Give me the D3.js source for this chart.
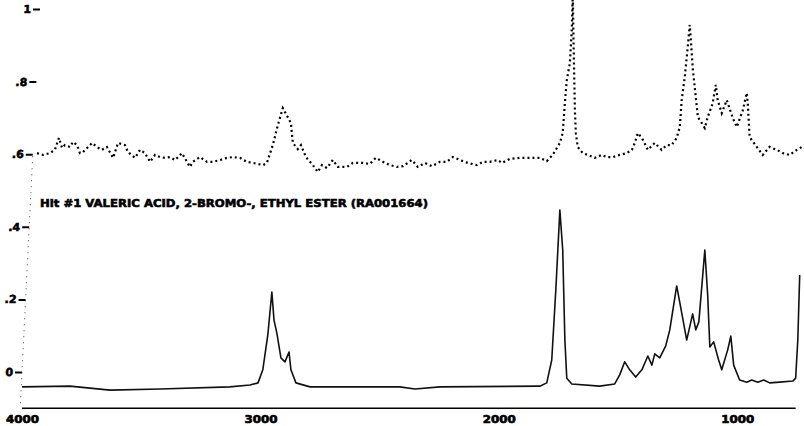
<!DOCTYPE html>
<html>
<head>
<meta charset="utf-8">
<script src="https://cdn.jsdelivr.net/npm/d3@7"></script>
<style>
  body { margin: 0; background: #fff; }
  svg { display: block; }
  .lbl { font-family: "DejaVu Sans", sans-serif; font-weight: bold; fill: #000; stroke: #000; stroke-width: 0.6; }
</style>
</head>
<body>
<div id="chart"></div>
<script>
// unknown sample (upper, noisy trace)
var unkWave = [3937, 3912, 3883, 3862, 3845, 3832, 3820, 3799, 3786, 3769, 3757, 3744, 3706, 3686, 3665, 3644, 3618, 3597, 3568, 3556,
    3526, 3505, 3484, 3463, 3442, 3421, 3400, 3379, 3358, 3329, 3296, 3283, 3254, 3224, 3199, 3170, 3140, 3115, 3086, 3057,
    3031, 2989, 2973, 2948, 2927, 2906, 2893, 2872, 2864, 2843, 2830, 2809, 2792, 2780, 2759, 2742, 2721, 2696, 2675, 2637,
    2612, 2570, 2541, 2516, 2486, 2457, 2428, 2402, 2365, 2340, 2310, 2281, 2247, 2218, 2193, 2163, 2130, 2092, 2067, 2038,
    2004, 1987, 1954, 1912, 1870, 1828, 1799, 1774, 1744, 1732, 1723, 1715, 1702, 1694, 1690, 1686, 1681, 1677, 1669, 1648,
    1627, 1597, 1568, 1547, 1522, 1493, 1463, 1442, 1430, 1417, 1400, 1375, 1346, 1317, 1296, 1275, 1254, 1241, 1233, 1220,
    1207, 1199, 1186, 1165, 1149, 1136, 1124, 1103, 1090, 1082, 1065, 1044, 1019, 1002, 977, 960, 956, 948, 918, 893,
    864, 834, 809, 780, 750, 729]
var unkAbs = [0.603, 0.598, 0.603, 0.612, 0.645, 0.617, 0.625, 0.620, 0.634, 0.625, 0.603, 0.606, 0.631, 0.620, 0.612, 0.620, 0.590, 0.631, 0.625, 0.606,
    0.590, 0.612, 0.603, 0.579, 0.598, 0.592, 0.590, 0.592, 0.584, 0.603, 0.565, 0.579, 0.592, 0.579, 0.579, 0.584, 0.590, 0.592, 0.590, 0.579,
    0.576, 0.570, 0.576, 0.625, 0.680, 0.727, 0.711, 0.686, 0.631, 0.614, 0.625, 0.592, 0.579, 0.570, 0.551, 0.570, 0.562, 0.584, 0.565, 0.565,
    0.576, 0.576, 0.573, 0.590, 0.579, 0.570, 0.565, 0.567, 0.584, 0.565, 0.576, 0.567, 0.579, 0.579, 0.592, 0.584, 0.576, 0.570, 0.579, 0.579,
    0.584, 0.576, 0.587, 0.590, 0.590, 0.590, 0.581, 0.598, 0.631, 0.658, 0.741, 0.804, 0.851, 0.942, 1.04, 0.887, 0.722, 0.658, 0.620, 0.603,
    0.598, 0.590, 0.598, 0.592, 0.592, 0.598, 0.603, 0.612, 0.631, 0.658, 0.645, 0.612, 0.631, 0.612, 0.625, 0.625, 0.645, 0.675, 0.749, 0.813,
    0.900, 0.956, 0.832, 0.702, 0.686, 0.672, 0.702, 0.740, 0.791, 0.749, 0.713, 0.749, 0.700, 0.675, 0.720, 0.769, 0.741, 0.647, 0.620, 0.598,
    0.620, 0.612, 0.603, 0.598, 0.612, 0.620]

// library hit (lower trace)
var hitWave = [4000, 3799, 3631, 3421, 3128, 3044, 3010, 2990, 2969, 2952, 2943, 2931, 2914, 2897, 2880, 2872, 2851, 2792, 2415, 2352,
    2247, 1828, 1799, 1778, 1761, 1744, 1732, 1723, 1715, 1694, 1577, 1514, 1493, 1472, 1451, 1426, 1400, 1375, 1358, 1346,
    1325, 1300, 1283, 1254, 1229, 1212, 1187, 1174, 1161, 1136, 1124, 1115, 1099, 1078, 1065, 1040, 1027, 1015, 990, 960,
    939, 914, 889, 864, 822, 767, 755, 746, 738]
var hitAbs = [-0.041, -0.039, -0.050, -0.047, -0.041, -0.036, -0.030, 0.006, 0.102, 0.220, 0.143, 0.107, 0.039, 0.028, 0.055, 0.006, -0.030, -0.041, -0.041, -0.047,
    -0.041, -0.039, -0.030, 0.033, 0.226, 0.446, 0.336, 0.088, -0.017, -0.033, -0.039, -0.033, -0.008, 0.028, 0.006, -0.014, 0.006, 0.044, 0.019, 0.050,
    0.039, 0.072, 0.116, 0.237, 0.149, 0.088, 0.160, 0.116, 0.138, 0.336, 0.212, 0.069, 0.083, 0.033, 0.006, 0.061, 0.099, 0.019, -0.022, -0.028,
    -0.022, -0.028, -0.022, -0.030, -0.028, -0.025, -0.017, 0.088, 0.267]

var yTicks = [0, 0.2, 0.4, 0.6, 0.8, 1]
var yTickLabels = ["0", ".2", ".4", ".6", ".8", "1"]
var xTicks = [4000, 3000, 2000, 1000]
var hitTitle = "Hit #1 VALERIC ACID, 2-BROMO-, ETHYL ESTER (RA001664)"

var width = 804, height = 426;

var svg = d3.select("#chart")
    .append("svg")
    .attr("width", width)
    .attr("height", height);

svg.append("rect").attr("width", width).attr("height", height).attr("fill", "#fff");

// wavenumber runs right to left
var x = d3.scaleLinear([4000, 720], [22, 804]);
var y = d3.scaleLinear([0, 1], [372, 9]);

// the scanned axis leans a bit, so skew the left axis group
var lean = 0.0496;
var yAxis = g => g
    .attr("transform", "translate(" + (22 + lean * y(0)) + ",0) skewX(" + (-Math.atan(lean) * 180 / Math.PI) + ")")
    .call(d3.axisLeft(y).tickValues(yTicks).tickFormat((d, i) => yTickLabels[i]).tickSize(7).tickPadding(2))
    .call(g => g.select(".domain").remove())
    .call(g => g.selectAll(".tick line").attr("stroke", "#000").attr("stroke-width", 2))
    .call(g => g.selectAll(".tick text").attr("class", "lbl").attr("font-size", 11))
    .call(g => g.append("line")
        .attr("x1", 0).attr("x2", 0)
        .attr("y1", y(0.6) + 2).attr("y2", y(-0.1))
        .attr("stroke", "#444").attr("stroke-width", 1)
        .attr("stroke-dasharray", "1,5"));

var xAxis = g => g
    .attr("transform", "translate(0," + y(-0.1) + ")")
    .call(d3.axisBottom(x).tickValues(xTicks).tickFormat(d3.format("d")).tickSize(0).tickPadding(8))
    .call(g => g.select(".domain").remove())
    .call(g => g.selectAll(".tick text").attr("class", "lbl").attr("font-size", 10)
        .attr("textLength", 33).attr("lengthAdjust", "spacingAndGlyphs"))
    .call(g => g.append("line")
        .attr("x1", x(4000)).attr("x2", x(755))
        .attr("stroke", "#000").attr("stroke-width", 1.6));

svg.append("g").call(xAxis);
svg.append("g").call(yAxis);

var line = d3.line().x(d => x(d[0])).y(d => y(d[1]));

// upper: unknown sample, drawn as broken dots like the scan
svg.append("path")
    .datum(d3.zip(unkWave, unkAbs))
    .attr("fill", "none")
    .attr("stroke", "#000")
    .attr("stroke-width", 2.2)
    .attr("stroke-dasharray", "2,3")
    .attr("d", line);

// lower: library hit
svg.append("path")
    .datum(d3.zip(hitWave, hitAbs))
    .attr("fill", "none")
    .attr("stroke", "#111")
    .attr("stroke-width", 1.6)
    .attr("stroke-linejoin", "round")
    .attr("d", line);

svg.append("text")
    .attr("class", "lbl")
    .attr("x", 40)
    .attr("y", 207)
    .attr("font-size", 11)
    .attr("textLength", 388)
    .attr("lengthAdjust", "spacingAndGlyphs")
    .text(hitTitle);
</script>
</body>
</html>
